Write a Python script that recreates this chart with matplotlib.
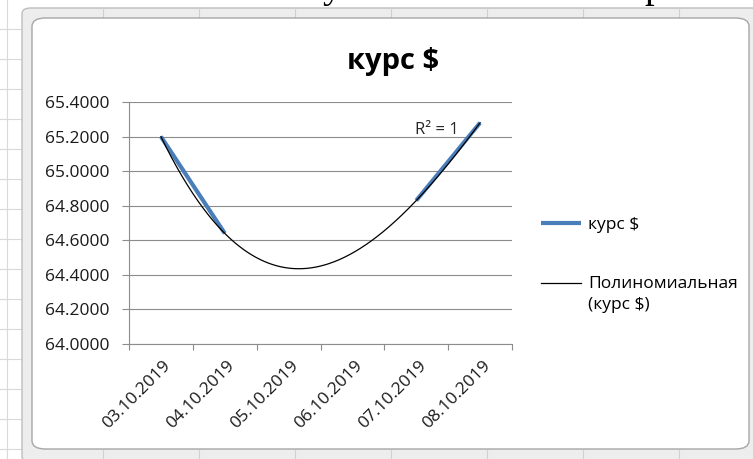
import numpy as np
import matplotlib
matplotlib.use('Agg')
import matplotlib.pyplot as plt
from matplotlib.patches import FancyBboxPatch
from matplotlib.lines import Line2D
from matplotlib.legend_handler import HandlerLine2D
import matplotlib.transforms as mtransforms

plt.rcParams['font.family'] = ['Open Sans', 'DejaVu Sans']

# data (05.10 and 06.10 are empty in the sheet)
dates = ['03.10.2019', '04.10.2019', '05.10.2019', '06.10.2019', '07.10.2019', '08.10.2019']
rates = [65.20, 64.64, np.nan, np.nan, 64.83, 65.28]
y_ticks = [64.0, 64.2, 64.4, 64.6, 64.8, 65.0, 65.2, 65.4]
series_name = 'курс $'
trend_name = 'Полиномиальная\n(курс $)'
trend_order = 3

W, H = 753, 459
fig = plt.figure(figsize=(W / 100, H / 100), dpi=100)
fig.patch.set_facecolor('white')


def fx(x):
    return x / W


def fy(y):
    return 1 - y / H


# spreadsheet cells behind the chart object
for yy in range(29, H, 30):
    fig.add_artist(Line2D([0, fx(22)], [fy(yy), fy(yy)], color='#d9d9d9', lw=0.8, zorder=-6))
fig.add_artist(Line2D([fx(7), fx(7)], [0, 1], color='#d9d9d9', lw=0.8, zorder=-6))

# chart frame
fig.add_artist(FancyBboxPatch((fx(22), fy(462)), fx(760 - 22), (462 - 8) / H,
                              boxstyle='round,pad=0,rounding_size=0.012',
                              transform=fig.transFigure, facecolor='#ededed',
                              edgecolor='#bdbdbd', lw=1.0, zorder=-5))
for xx in range(103, W, 96):
    fig.add_artist(Line2D([fx(xx), fx(xx)], [fy(8), fy(18)], color='#d0d0d0', lw=0.8, zorder=-4))
    fig.add_artist(Line2D([fx(xx), fx(xx)], [fy(450), fy(459)], color='#d0d0d0', lw=0.8, zorder=-4))
fig.add_artist(FancyBboxPatch((fx(32), fy(449)), fx(749 - 32), (449 - 18) / H,
                              boxstyle='round,pad=0,rounding_size=0.018',
                              transform=fig.transFigure, facecolor='white',
                              edgecolor='#a6a6a6', lw=1.0, zorder=-3))

# bits of the document text above the chart
fig.text(fx(332), fy(-3), 'у', fontsize=28, family='Liberation Serif', va='baseline', ha='center')
fig.text(fx(654), fy(-3), 'р', fontsize=28, family='Liberation Serif', va='baseline', ha='center')

ax = fig.add_axes([fx(129), fy(344), fx(512 - 129), (344 - 102) / H])
ax.set_facecolor('none')

x = np.arange(len(dates))
y = np.array(rates)
ax.plot(x, y, color='#4a7ebb', lw=3.0, solid_capstyle='butt', label=series_name, zorder=3)

mask = ~np.isnan(y)
coef = np.polyfit(x[mask], y[mask], trend_order)
xs = np.linspace(x[mask][0], x[mask][-1], 300)
ax.plot(xs, np.polyval(coef, xs), color='black', lw=0.9, label=trend_name, zorder=4)

ax.set_xlim(-0.5, len(dates) - 0.5)
ax.set_ylim(y_ticks[0], y_ticks[-1])
ax.set_yticks(y_ticks)
ax.set_yticklabels(['%.4f' % v for v in y_ticks])
ax.grid(axis='y', color='#8c8c8c', lw=0.8)
ax.set_axisbelow(True)

ax.set_xticks(np.arange(len(dates) + 1) - 0.5)
ax.set_xticklabels([])
ax.set_xticks(x, minor=True)
ax.set_xticklabels(dates, minor=True, rotation=45, ha='right', va='top', rotation_mode='anchor')
ax.tick_params(axis='x', which='minor', length=0, pad=10, labelsize=12.5, labelcolor='#1a1a1a')
ax.tick_params(axis='x', which='major', length=4, color='#8c8c8c', width=0.8)
ax.tick_params(axis='y', length=5, color='#8c8c8c', width=0.8, pad=9, labelsize=12.5,
               labelcolor='#1a1a1a')
shift = mtransforms.ScaledTranslation(2 / 100, 0, fig.dpi_scale_trans)
for lab in ax.get_xticklabels(minor=True):
    lab.set_transform(lab.get_transform() + shift)

for s in ['top', 'right']:
    ax.spines[s].set_visible(False)
for s in ['left', 'bottom']:
    ax.spines[s].set_color('#8c8c8c')
    ax.spines[s].set_linewidth(0.8)

fig.text(fx(393.5), fy(61), series_name, fontsize=21, fontweight='bold', ha='center', va='center')
fig.text(fx(437), fy(130), 'R² = 1', fontsize=12, ha='center', va='center', color='#262626')


class FirstLineHandler(HandlerLine2D):
    # Excel puts the legend key next to the first line of a wrapped entry
    def create_artists(self, legend, orig_handle, xdescent, ydescent, width, height,
                       fontsize, trans):
        arts = super().create_artists(legend, orig_handle, xdescent, ydescent, width,
                                      height, fontsize, trans)
        for a in arts:
            a.set_ydata(np.asarray(a.get_ydata()) + 8.6)
        return arts


handles, labels = ax.get_legend_handles_labels()
leg = ax.legend(handles, labels, loc='upper left', bbox_to_anchor=(fx(534), fy(210)),
                bbox_transform=fig.transFigure, frameon=False, fontsize=12.5,
                handlelength=2.3, handletextpad=0.4, labelspacing=2.5, borderaxespad=0,
                handler_map={handles[1]: FirstLineHandler()})
leg.get_texts()[1].set_linespacing(1.38)

fig.savefig('out.png', dpi=100)
